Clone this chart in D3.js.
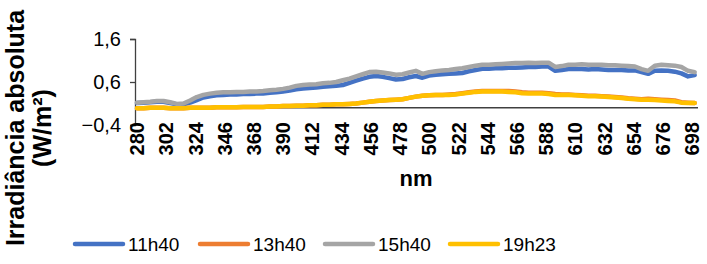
<!DOCTYPE html>
<html><head><meta charset="utf-8">
<script src="https://cdn.jsdelivr.net/npm/d3@7"></script>
<style>html,body{margin:0;padding:0;background:#fff;}svg{display:block;font-family:"Liberation Sans",Arial,sans-serif;}</style>
</head><body>
<svg id="c" width="707" height="264"></svg>
<script>
const wavelengths = d3.range(280, 701, 5);
const xTickLabels = [280,302,324,346,368,390,412,434,456,478,500,522,544,566,588,610,632,654,676,698];
const yTickLabels = [-0.4, 0.6, 1.6];
const seriesNames = ["11h40","13h40","15h40","19h23"];
const seriesColors = ["#4472C4","#ED7D31","#A5A5A5","#FFC000"];

const s1140 = [0.11,0.12,0.13,0.14,0.14,0.11,0.08,0.08,0.12,0.18,0.24,0.27,0.29,0.30,0.31,0.31,0.32,0.32,0.33,0.33,
0.35,0.36,0.38,0.40,0.43,0.45,0.46,0.47,0.49,0.50,0.51,0.53,0.58,0.63,0.68,0.72,0.74,0.72,0.69,0.66,
0.67,0.71,0.74,0.70,0.75,0.77,0.78,0.79,0.80,0.81,0.85,0.88,0.91,0.91,0.92,0.92,0.93,0.93,0.94,0.95,
0.95,0.96,0.96,0.86,0.88,0.90,0.90,0.90,0.89,0.90,0.89,0.88,0.88,0.88,0.87,0.87,0.83,0.79,0.86,0.87,
0.86,0.84,0.80,0.73,0.76];
const s1540 = [0.12,0.13,0.14,0.16,0.16,0.13,0.09,0.10,0.17,0.25,0.30,0.33,0.35,0.36,0.36,0.37,0.37,0.38,0.38,0.39,
0.41,0.42,0.44,0.47,0.51,0.53,0.54,0.55,0.57,0.58,0.60,0.64,0.68,0.73,0.78,0.83,0.84,0.82,0.80,0.77,
0.78,0.82,0.86,0.79,0.83,0.85,0.87,0.88,0.90,0.92,0.95,0.98,1.00,1.00,1.01,1.02,1.03,1.04,1.04,1.05,
1.04,1.05,1.05,0.95,0.97,1.00,1.00,1.01,1.00,1.00,1.00,0.99,0.99,0.98,0.97,0.96,0.90,0.86,0.98,1.00,
0.99,0.98,0.95,0.86,0.83];
const s1923 = [-0.01,-0.01,0.00,0.00,0.00,-0.01,-0.01,-0.01,0.00,0.00,0.00,0.00,0.01,0.01,0.01,0.01,0.02,0.02,0.02,0.02,
0.03,0.03,0.04,0.04,0.05,0.05,0.06,0.06,0.07,0.07,0.08,0.08,0.09,0.10,0.12,0.14,0.16,0.17,0.18,0.19,
0.20,0.23,0.26,0.28,0.29,0.30,0.30,0.30,0.31,0.33,0.35,0.37,0.38,0.38,0.38,0.38,0.37,0.36,0.34,0.33,
0.33,0.33,0.32,0.30,0.30,0.30,0.29,0.28,0.27,0.27,0.26,0.25,0.24,0.23,0.21,0.20,0.19,0.19,0.18,0.17,
0.16,0.15,0.12,0.11,0.11];
const s1340 = [-0.01,-0.01,0.00,0.00,0.00,-0.01,-0.01,-0.01,0.00,0.00,0.00,0.00,0.01,0.01,0.01,0.01,0.02,0.02,0.02,0.02,
0.03,0.03,0.04,0.04,0.05,0.05,0.06,0.06,0.07,0.07,0.08,0.08,0.09,0.10,0.12,0.14,0.16,0.17,0.18,0.19,
0.20,0.23,0.26,0.28,0.29,0.30,0.30,0.31,0.32,0.34,0.36,0.38,0.39,0.39,0.39,0.39,0.39,0.38,0.36,0.35,
0.35,0.35,0.34,0.32,0.31,0.31,0.30,0.29,0.28,0.28,0.27,0.26,0.25,0.24,0.22,0.21,0.20,0.21,0.20,0.19,
0.18,0.17,0.13,0.12,0.11];
const seriesValues = [s1140, s1340, s1540, s1923];

const svg = d3.select("#c");
const x = d3.scaleLinear().domain([280, 698]).range([137, 692]);
const y = d3.scaleLinear().domain([-0.4, 1.6]).range([125, 39]);
const axisX = 135, rightX = 698;

// y axis
const ya = svg.append("g").attr("transform", `translate(${axisX},0)`)
  .call(d3.axisLeft(y).tickValues(yTickLabels).tickSize(5).tickPadding(9)
    .tickFormat(d => d3.format(".1f")(d).replace(".", ",").replace("-", "-")));
ya.select(".domain").attr("stroke", "#404040").attr("stroke-width", 1.3);
ya.selectAll(".tick line").attr("stroke", "#404040").attr("stroke-width", 1.3);
ya.selectAll(".tick text").attr("font-size", 20).attr("fill", "#000").attr("font-family", "Liberation Sans, Arial");

// x axis line at y = 0
svg.append("line").attr("x1", axisX).attr("x2", rightX).attr("y1", y(0)).attr("y2", y(0))
  .attr("stroke", "#404040").attr("stroke-width", 1.5);

// x tick labels (low position)
svg.append("g").selectAll("text").data(xTickLabels).join("text")
  .attr("transform", d => `translate(${x(d)},122) rotate(-90)`)
  .attr("text-anchor", "end").attr("dy", "0.36em")
  .attr("font-size", 20).attr("font-weight", "bold").attr("fill", "#000")
  .text(d => d);

// lines
const line = d3.line().x((d, i) => x(wavelengths[i])).y(d => y(d)).curve(d3.curveLinear);
seriesValues.forEach((vals, k) => {
  svg.append("path").datum(vals).attr("d", line)
    .attr("fill", "none").attr("stroke", seriesColors[k]).attr("stroke-width", 4.5)
    .attr("stroke-linejoin", "round").attr("stroke-linecap", "round");
});

// axis titles
svg.append("text").attr("x", 416).attr("y", 186).attr("text-anchor", "middle")
  .attr("font-size", 22).attr("font-weight", "bold").text("nm");
const yt = svg.append("text").attr("transform", "translate(0,128) rotate(-90)")
  .attr("text-anchor", "middle").attr("font-size", 25).attr("font-weight", "bold");
yt.append("tspan").attr("x", 0).attr("y", 24).text("Irradiância absoluta");
yt.append("tspan").attr("x", 0).attr("y", 51).text("(W/m²)");

// legend
const legX = [75, 200, 325, 450];
const lg = svg.append("g");
seriesNames.forEach((n, k) => {
  lg.append("line").attr("x1", legX[k]).attr("x2", legX[k] + 48).attr("y1", 244).attr("y2", 244)
    .attr("stroke", seriesColors[k]).attr("stroke-width", 4.5).attr("stroke-linecap", "round");
  lg.append("text").attr("x", legX[k] + 53).attr("y", 244).attr("dy", "0.36em")
    .attr("font-size", 19).attr("fill", "#000").text(n);
});
</script>
</body></html>
